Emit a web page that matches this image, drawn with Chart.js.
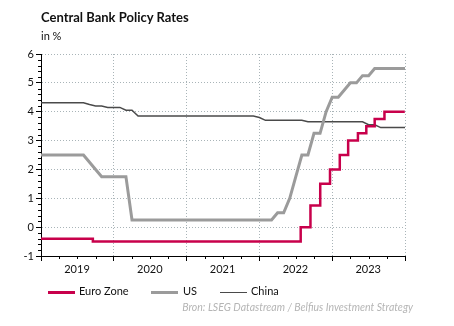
<!DOCTYPE html>
<html>
<head>
<meta charset="utf-8">
<script src="https://cdn.jsdelivr.net/npm/chart.js@4/dist/chart.umd.min.js"></script>
<style>
  html, body { margin: 0; padding: 0; background: #fff; }
  #wrap { position: relative; width: 454px; height: 326px; overflow: hidden; font-family: Lato, "Open Sans", sans-serif; color: #111; }
  #chart { position: absolute; left: 0; top: 0; }
  .txt { position: absolute; white-space: nowrap; }
  #title { left: 41px; top: 11px; font-size: 13px; line-height: 13px; font-weight: bold; }
  #unit { left: 41px; top: 30px; font-size: 11px; line-height: 11px; }
  .sw { position: absolute; }
  .lg { font-size: 11px; line-height: 11px; top: 285px; }
  #source { right: 41px; top: 302px; font-size: 10.5px; line-height: 11px; font-style: italic; color: #b5b5b5; }
</style>
</head>
<body>
<div id="wrap">
  <canvas id="chart" width="454" height="326"></canvas>
  <div class="txt" id="title">Central Bank Policy Rates</div>
  <div class="txt" id="unit">in %</div>

  <div class="sw" style="left:48px; top:291px; width:27px; height:3px; background:#C8004B;"></div>
  <div class="txt lg" style="left:79px;">Euro Zone</div>
  <div class="sw" style="left:151px; top:291px; width:27px; height:3px; background:#9b9b9b;"></div>
  <div class="txt lg" style="left:183px;">US</div>
  <div class="sw" style="left:220px; top:292px; width:27px; height:1px; background:#4a4a4a;"></div>
  <div class="txt lg" style="left:251px;">China</div>

  <div class="txt" id="source">Bron: LSEG Datastream / Belfius Investment Strategy</div>
</div>

<script>
// Month-end observation dates, Dec 2018 .. Dec 2023, as decimal years
const monthEnds = Array.from({ length: 61 }, (_, i) => 2019 + i / 12);

// US Fed funds target (upper bound), month-end, %
const usRate = [
  2.5,                                                               // Dec 2018
  2.5, 2.5, 2.5, 2.5, 2.5, 2.5, 2.5, 2.25, 2.0, 1.75, 1.75, 1.75,    // 2019
  1.75, 1.75, 0.25, 0.25, 0.25, 0.25, 0.25, 0.25, 0.25, 0.25, 0.25, 0.25, // 2020
  0.25, 0.25, 0.25, 0.25, 0.25, 0.25, 0.25, 0.25, 0.25, 0.25, 0.25, 0.25, // 2021
  0.25, 0.25, 0.5, 0.5, 1.0, 1.75, 2.5, 2.5, 3.25, 3.25, 4.0, 4.5,   // 2022
  4.5, 4.75, 5.0, 5.0, 5.25, 5.25, 5.5, 5.5, 5.5, 5.5, 5.5, 5.5      // 2023
];

// China 1-year loan prime rate, month-end, %
const chinaRate = [
  4.31,                                                              // Dec 2018
  4.31, 4.31, 4.31, 4.31, 4.31, 4.31, 4.31, 4.25, 4.20, 4.20, 4.15, 4.15, // 2019
  4.15, 4.05, 4.05, 3.85, 3.85, 3.85, 3.85, 3.85, 3.85, 3.85, 3.85, 3.85, // 2020
  3.85, 3.85, 3.85, 3.85, 3.85, 3.85, 3.85, 3.85, 3.85, 3.85, 3.85, 3.80, // 2021
  3.70, 3.70, 3.70, 3.70, 3.70, 3.70, 3.70, 3.65, 3.65, 3.65, 3.65, 3.65, // 2022
  3.65, 3.65, 3.65, 3.65, 3.65, 3.55, 3.55, 3.45, 3.45, 3.45, 3.45, 3.45  // 2023
];

// ECB deposit facility rate: dates on which a new level took effect, %
const euroDates = [
  '2019-01-01', '2019-09-18', '2022-07-27', '2022-09-14', '2022-11-02', '2022-12-21',
  '2023-02-08', '2023-03-22', '2023-05-10', '2023-06-21', '2023-08-02', '2023-09-20', '2023-12-31'
];
const euroRate = [
  -0.40, -0.50, 0.00, 0.75, 1.50, 2.00,
  2.50, 3.00, 3.25, 3.50, 3.75, 4.00, 4.00
];

const seriesNames = ['Euro Zone', 'US', 'China'];
const yearLabels = ['2019', '2020', '2021', '2022', '2023'];
const yTicks = [-1, 0, 1, 2, 3, 4, 5, 6];

// date string -> decimal year
function toYear(s) {
  const [y, m, d] = s.split('-').map(Number);
  const start = Date.UTC(y, 0, 1), end = Date.UTC(y + 1, 0, 1);
  return y + (Date.UTC(y, m - 1, d) - start) / (end - start);
}

const GRID = '#a9b4b8';

// short minor tick marks: quarters on the time axis, 0.2 steps on the value axis
const minorTicks = {
  id: 'minorTicks',
  afterDraw(chart) {
    const { ctx, chartArea: a, scales: { x, y } } = chart;
    ctx.save();
    ctx.strokeStyle = '#000';
    ctx.lineWidth = 1;
    ctx.beginPath();
    for (let yr = 2019; yr < 2024; yr++) {
      for (let q = 1; q < 4; q++) {
        const px = Math.round(x.getPixelForValue(yr + q / 4)) + 0.5;
        ctx.moveTo(px, a.bottom);
        ctx.lineTo(px, a.bottom + 3);
      }
    }
    for (let k = -5; k <= 30; k++) {
      if (k % 5 === 0) continue;
      const py = Math.round(y.getPixelForValue(k / 5)) + 0.5;
      ctx.moveTo(a.left - 3, py);
      ctx.lineTo(a.left, py);
    }
    ctx.stroke();
    ctx.restore();
  }
};

new Chart(document.getElementById('chart'), {
  type: 'line',
  data: {
    datasets: [
      {
        label: seriesNames[0],
        data: euroDates.map((d, i) => ({ x: toYear(d), y: euroRate[i] })),
        borderColor: '#C8004B',
        borderWidth: 2.5,
        stepped: 'before'
      },
      {
        label: seriesNames[1],
        data: monthEnds.map((x, i) => ({ x, y: usRate[i] })),
        borderColor: '#9b9b9b',
        borderWidth: 3
      },
      {
        label: seriesNames[2],
        data: monthEnds.map((x, i) => ({ x, y: chinaRate[i] })),
        borderColor: '#4a4a4a',
        borderWidth: 1.5
      }
    ]
  },
  options: {
    responsive: false,
    animation: false,
    devicePixelRatio: 1,
    elements: { point: { radius: 0 }, line: { tension: 0, fill: false } },
    layout: { padding: { top: 54, right: 49, bottom: 0, left: 0 } },
    plugins: { legend: { display: false }, title: { display: false }, tooltip: { enabled: false } },
    scales: {
      x: {
        type: 'linear',
        min: 2019,
        max: 2024,
        afterFit(s) { s.height = 70; },
        afterBuildTicks(s) { s.ticks = [2019, 2020, 2021, 2022, 2023, 2024].map(v => ({ value: v })); },
        ticks: {
          callback: (v) => yearLabels[v - 2019] || '',
          labelOffset: 36,
          maxRotation: 0,
          autoSkip: false,
          padding: 2,
          color: '#111',
          font: { family: 'Lato', size: 11 }
        },
        grid: {
          color: (c) => (c.tick && c.tick.value === 2019 ? 'rgba(0,0,0,0)' : GRID),
          lineWidth: 1,
          tickColor: '#000',
          tickBorderDash: [],
          tickLength: 5
        },
        border: { display: true, color: '#000', width: 1, dash: [1, 2] }
      },
      y: {
        min: -1,
        max: 6,
        afterFit(s) { s.width = 41; },
        afterBuildTicks(s) { s.ticks = yTicks.map(v => ({ value: v })); },
        ticks: {
          padding: 2,
          color: '#111',
          font: { family: 'Lato', size: 11 }
        },
        grid: {
          color: (c) => (c.tick && c.tick.value === -1 ? 'rgba(0,0,0,0)' : GRID),
          lineWidth: 1,
          tickColor: '#000',
          tickBorderDash: [],
          tickLength: 5
        },
        border: { display: true, color: '#000', width: 1, dash: [1, 2] }
      }
    }
  },
  plugins: [minorTicks]
});
</script>
</body>
</html>
